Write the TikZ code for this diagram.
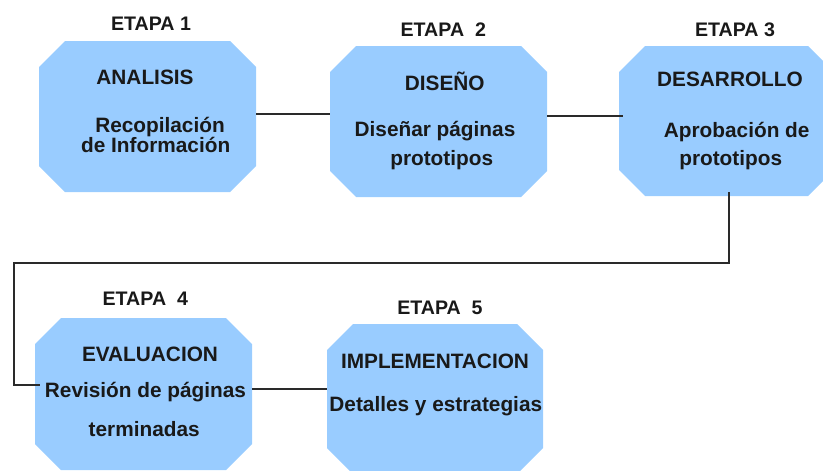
\documentclass[tikz,border=0pt]{standalone}
\usepackage{fontspec}
\setmainfont{Liberation Sans}
\definecolor{boxblue}{HTML}{99CCFF}
\definecolor{linegray}{HTML}{2A2A2A}
\newcommand\octabox[1]{%
  \fill[boxblue] ([xshift=26pt]#1.north west) -- ([xshift=-26pt]#1.north east)
    -- ([yshift=-26pt]#1.north east) -- ([yshift=26pt]#1.south east)
    -- ([xshift=-26pt]#1.south east) -- ([xshift=26pt]#1.south west)
    -- ([yshift=26pt]#1.south west) -- ([yshift=-26pt]#1.north west) -- cycle;}
\begin{document}
\begin{tikzpicture}[x=1pt,y=-1pt,
  stagebox/.style={inner sep=0pt, outer sep=0pt, minimum width=217pt, minimum height=151pt},
  etapa/.style={anchor=base, inner sep=0pt, font=\bfseries\fontsize{19.6}{20}\selectfont, text=black!90},
  txt/.style={anchor=base, inner sep=0pt, font=\bfseries\fontsize{20.8}{20}\selectfont, text=black!90},
  conn/.style={draw=linegray, line width=2pt}]
\useasboundingbox (0,0) rectangle (823,471);
% stage boxes
\node[stagebox] (b1) at (147.5,116.5) {};
\node[stagebox] (b2) at (438.5,121.5) {};
\node[stagebox, minimum width=215pt, minimum height=150pt] (b3) at (726.5,121) {};
\node[stagebox, minimum height=152pt] (b4) at (143.5,394) {};
\node[stagebox, minimum width=216pt, minimum height=150pt] (b5) at (435,399) {};
\octabox{b1}
\octabox{b2}
\octabox{b3}
\octabox{b4}
\octabox{b5}
% connectors
\coordinate (turnL) at (14,263);
\draw[conn] ([yshift=2.5pt]b1.east) -- ([yshift=2.5pt]b1.east -| b2.west);
\draw[conn] ([yshift=6pt]b2.east) -- ([yshift=6pt,xshift=4pt]b2.east -| b3.west);
\draw[conn] ([xshift=2.5pt,yshift=4pt]b3.south) |- (turnL) |- ([yshift=9pt,xshift=5pt]b4.west);
\draw[conn] ([yshift=5.5pt]b4.east) -- ([yshift=5.5pt]b4.east -| b5.west);
% stage titles
\node[etapa] (e1) at (151,30.7) {ETAPA 1};
\node[etapa] (e2) at (443.3,36) {ETAPA\ \ 2};
\node[etapa] (e3) at (735,36) {ETAPA 3};
\node[etapa] (e4) at (145.3,305) {ETAPA\ \ 4};
\node[etapa] (e5) at (440,314.3) {ETAPA\ \ 5};
% box texts
\node[txt] (t1a) at (145,84) {ANALISIS};
\node[txt] (t1b) at (160,132.7) {Recopilación};
\node[txt] (t1c) at (155.7,152.7) {de Información};
\node[txt] (t2a) at (444.7,90) {DISEÑO};
\node[txt] (t2b) at (435,136) {Diseñar páginas};
\node[txt] (t2c) at (441.7,165.5) {prototipos};
\node[txt] (t3a) at (730,86) {DESARROLLO};
\node[txt] (t3b) at (736.7,137) {Aprobación de};
\node[txt] (t3c) at (730.7,165) {prototipos};
\node[txt] (t4a) at (150,361.7) {EVALUACION};
\node[txt] (t4b) at (145.5,397) {Revisión de páginas};
\node[txt] (t4c) at (144.2,436.7) {terminadas};
\node[txt] (t5a) at (435,368) {IMPLEMENTACION};
\node[txt] (t5b) at (435.8,411) {Detalles y estrategias};
\end{tikzpicture}
\end{document}
